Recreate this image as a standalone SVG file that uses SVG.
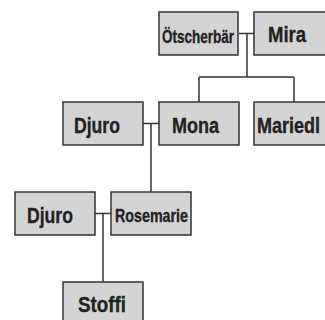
<svg xmlns="http://www.w3.org/2000/svg" width="325" height="320" viewBox="0 0 325 320">
<style>
.box{fill:#d4d4d4;stroke:#333;stroke-width:1.5}
.t{font-family:"Liberation Sans Narrow","Liberation Sans",Arial,sans-serif;font-weight:bold;fill:#222;stroke:#222;stroke-width:0.35}
.l{font-size:22px}
.s{font-size:18.5px}
.c{fill:none;stroke:#333;stroke-width:1.5}
</style>
<rect width="325" height="320" fill="#fff"/>
<g id="connectors" class="c">
<path d="M239,33.5 H254 M247,33.5 V77 M199,77 H294 M199,77 V102 M294,77 V102"/>
<path d="M143,123.5 H159 M151,123.5 V192"/>
<path d="M95,213.5 H111 M103,213.5 V282"/>
</g>
<g id="oetscherbaer"><rect class="box" x="159" y="12" width="79" height="43"/><text class="t s" x="162" y="43" textLength="72" lengthAdjust="spacingAndGlyphs">Ötscherbär</text></g>
<g id="mira"><rect class="box" x="254" y="12" width="80" height="43"/><text class="t l" x="268" y="42" textLength="38" lengthAdjust="spacingAndGlyphs">Mira</text></g>
<g id="djuro1"><rect class="box" x="63" y="102" width="80" height="43"/><text class="t l" x="74" y="133" textLength="46" lengthAdjust="spacingAndGlyphs">Djuro</text></g>
<g id="mona"><rect class="box" x="159" y="102" width="80" height="43"/><text class="t l" x="172" y="133" textLength="47" lengthAdjust="spacingAndGlyphs">Mona</text></g>
<g id="mariedl"><rect class="box" x="254" y="102" width="80" height="43"/><text class="t l" x="257" y="133" textLength="63" lengthAdjust="spacingAndGlyphs">Mariedl</text></g>
<g id="djuro2"><rect class="box" x="15" y="192" width="80" height="43"/><text class="t l" x="27" y="223" textLength="46" lengthAdjust="spacingAndGlyphs">Djuro</text></g>
<g id="rosemarie"><rect class="box" x="111" y="192" width="80" height="43"/><text class="t s" x="115" y="222" textLength="73" lengthAdjust="spacingAndGlyphs">Rosemarie</text></g>
<g id="stoffi"><rect class="box" x="63" y="282" width="80" height="43"/><text class="t l" x="78" y="312" textLength="48" lengthAdjust="spacingAndGlyphs">Stoffi</text></g>
</svg>
